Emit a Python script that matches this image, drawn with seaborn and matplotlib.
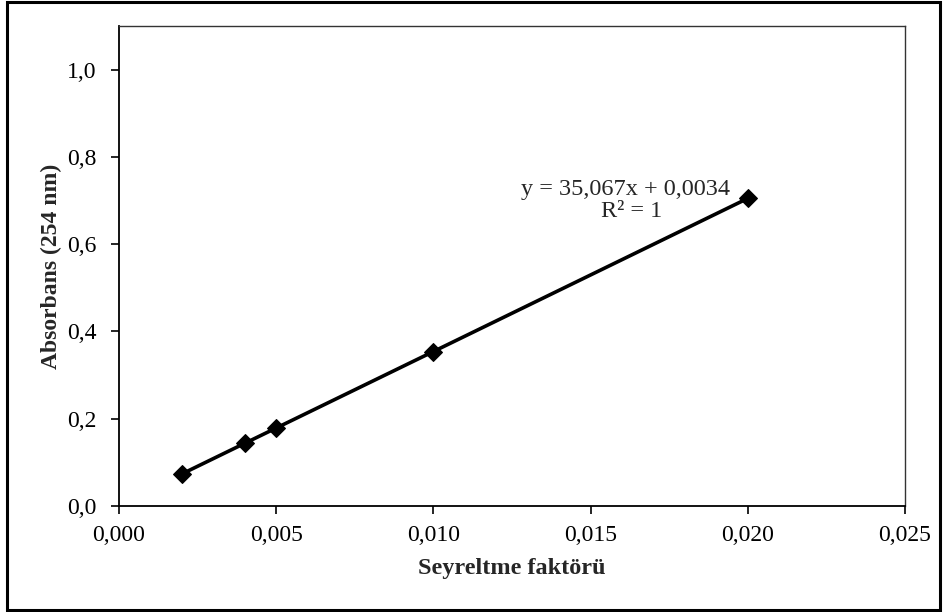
import matplotlib
matplotlib.use("Agg")
import matplotlib.pyplot as plt
import seaborn as sns
import pandas as pd
from matplotlib.ticker import FuncFormatter, MultipleLocator
from matplotlib.patches import Rectangle

# Data
dilution = [0.002, 0.004, 0.005, 0.010, 0.020]
absorbance = [0.0735, 0.1437, 0.1787, 0.354, 0.705]
equation_text = "y = 35,067x + 0,0034"
r2_text = "R² = 1"
x_label = "Seyreltme faktörü"
y_label = "Absorbans (254 nm)"

df = pd.DataFrame({"x": dilution, "y": absorbance})

sns.set_theme(style="white")
plt.rcParams["font.family"] = ["Liberation Serif", "DejaVu Serif"]

fig = plt.figure(figsize=(9.47, 6.12), dpi=100)
ax = fig.add_axes([119/947, 1-506/612, (905-119)/947, (506-26)/612])

sns.lineplot(data=df, x="x", y="y", ax=ax, color="black", linewidth=2.6,
             marker="D", markersize=9, markeredgecolor="black",
             markerfacecolor="black")

ax.set_xlim(0, 0.025)
ax.set_ylim(0, 1.1)
ax.xaxis.set_major_locator(MultipleLocator(0.005))
ax.yaxis.set_major_locator(MultipleLocator(0.2))
ax.xaxis.set_major_formatter(FuncFormatter(lambda v, p: f"{v:.3f}".replace(".", ",")))
ax.yaxis.set_major_formatter(FuncFormatter(lambda v, p: f"{v:.1f}".replace(".", ",")))
ax.tick_params(axis="both", direction="out", length=6, width=1.2, colors="black",
               labelsize=17, bottom=True, left=True)
ax.tick_params(axis="x", pad=8)
ax.tick_params(axis="y", pad=10)
for s in ax.spines.values():
    s.set_color("#333333")
    s.set_linewidth(1.0)
ax.spines["left"].set_color("black")
ax.spines["bottom"].set_color("black")
ax.spines["left"].set_linewidth(1.3)
ax.spines["bottom"].set_linewidth(1.3)

ax.set_xlabel(x_label, fontsize=17.5, fontweight="bold", labelpad=8)
ax.set_ylabel(y_label, fontsize=17, fontweight="bold", labelpad=4)

ax.text(0.0161, 0.725, equation_text, ha="center", va="center", fontsize=17.5)
ax.text(0.0163, 0.674, r2_text, ha="center", va="center", fontsize=17.5)

fig.patches.append(Rectangle((7/947, 2/612), (940-7)/947, (610-2)/612,
                             transform=fig.transFigure, fill=False,
                             edgecolor="black", linewidth=2.2))

fig.savefig("out.png", dpi=100)
